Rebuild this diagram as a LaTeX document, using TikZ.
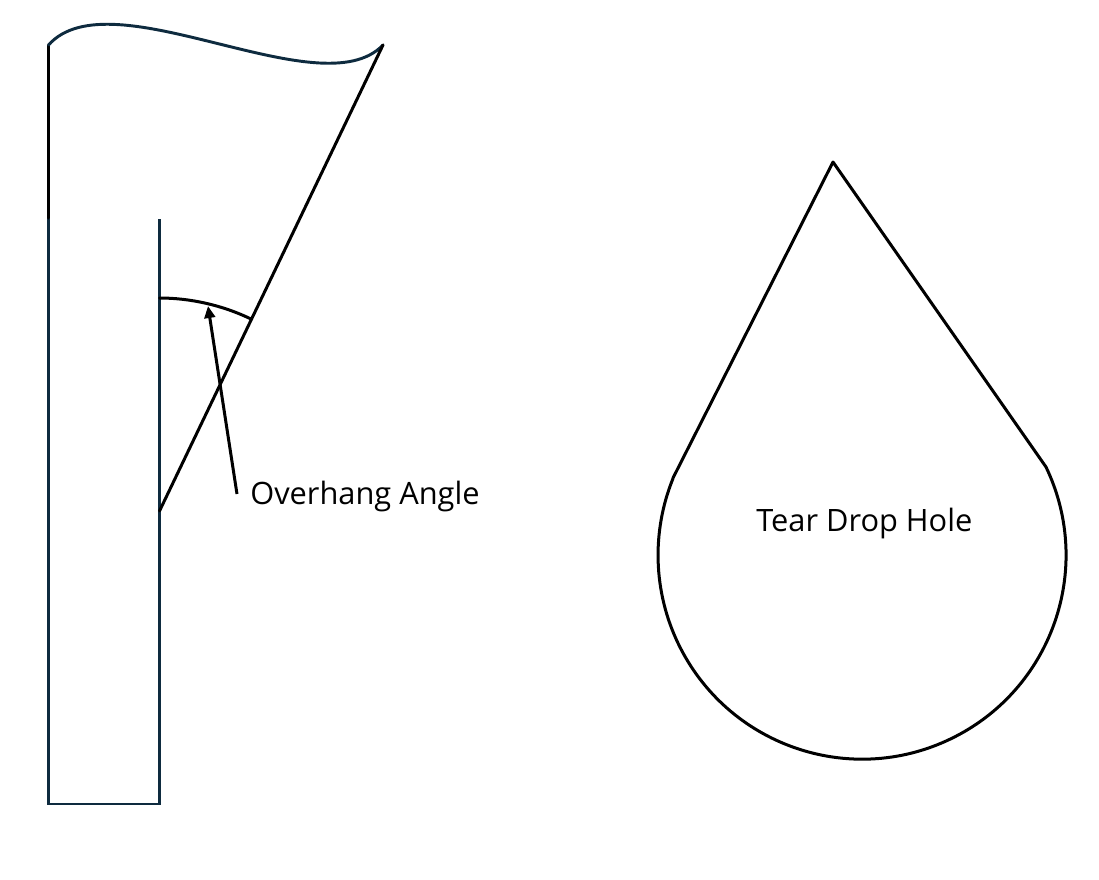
\documentclass[tikz,border=0pt]{standalone}
\usepackage{fontspec}
\setmainfont{Open Sans}
\usetikzlibrary{arrows.meta}
\definecolor{navy}{HTML}{0E2B3F}
\tikzset{
  shape line/.style={line width=2.25pt,line cap=round,line join=round},
  navy line/.style={shape line,line width=2.2pt,line cap=butt,line join=miter,draw=navy},
  black line/.style={shape line,draw=black},
  note arrow/.style={black line,line cap=butt,-{Triangle[length=9pt,width=8pt]}},
  caption/.style={font=\fontsize{23.1}{27}\selectfont,inner sep=0pt,anchor=base west,text=black}
}
\begin{document}
\begin{tikzpicture}[x=0.75pt,y=-0.75pt]
\useasboundingbox (0,0) rectangle (1099,879);
% wall
\coordinate (topleft) at (48.5,45);
\coordinate (step) at (48.5,218);
\coordinate (botleft) at (48.5,804);
\coordinate (botright) at (159.5,804);
\coordinate (innertop) at (159.5,219);
\coordinate (tip) at (383,45);
\coordinate (base) at (159.5,511);
\coordinate (arcstart) at (159.5,298);
\coordinate (arcend) at (251,319);
\draw[navy line] (step) -- (botleft) -- (botright) -- (innertop);
\draw[black line] (topleft) -- (step);
\draw[navy line,line cap=round] (topleft) .. controls (111,-25) and (321,110) .. (tip);
\draw[black line] (tip) -- (base);
\draw[black line] (arcstart) .. controls (190,298) and (222,305) .. (arcend);
% label
\node[caption] (overhang) at (250,504) {Overhang Angle};
\coordinate (arrowtail) at (237,494);
\coordinate (arrowhead) at (208,306);
\draw[note arrow] (arrowtail) -- (arrowhead);
% tear drop
\coordinate (droptip) at (833,162);
\coordinate (dropleft) at (673,478);
\coordinate (dropright) at (1046,467);
\draw[black line] (dropleft) -- (droptip) -- (dropright)
  arc[start angle=-25.6,end angle=202.1,radius=204];
\node[caption] (drop) at (756,531) {Tear Drop Hole};
\end{tikzpicture}
\end{document}
